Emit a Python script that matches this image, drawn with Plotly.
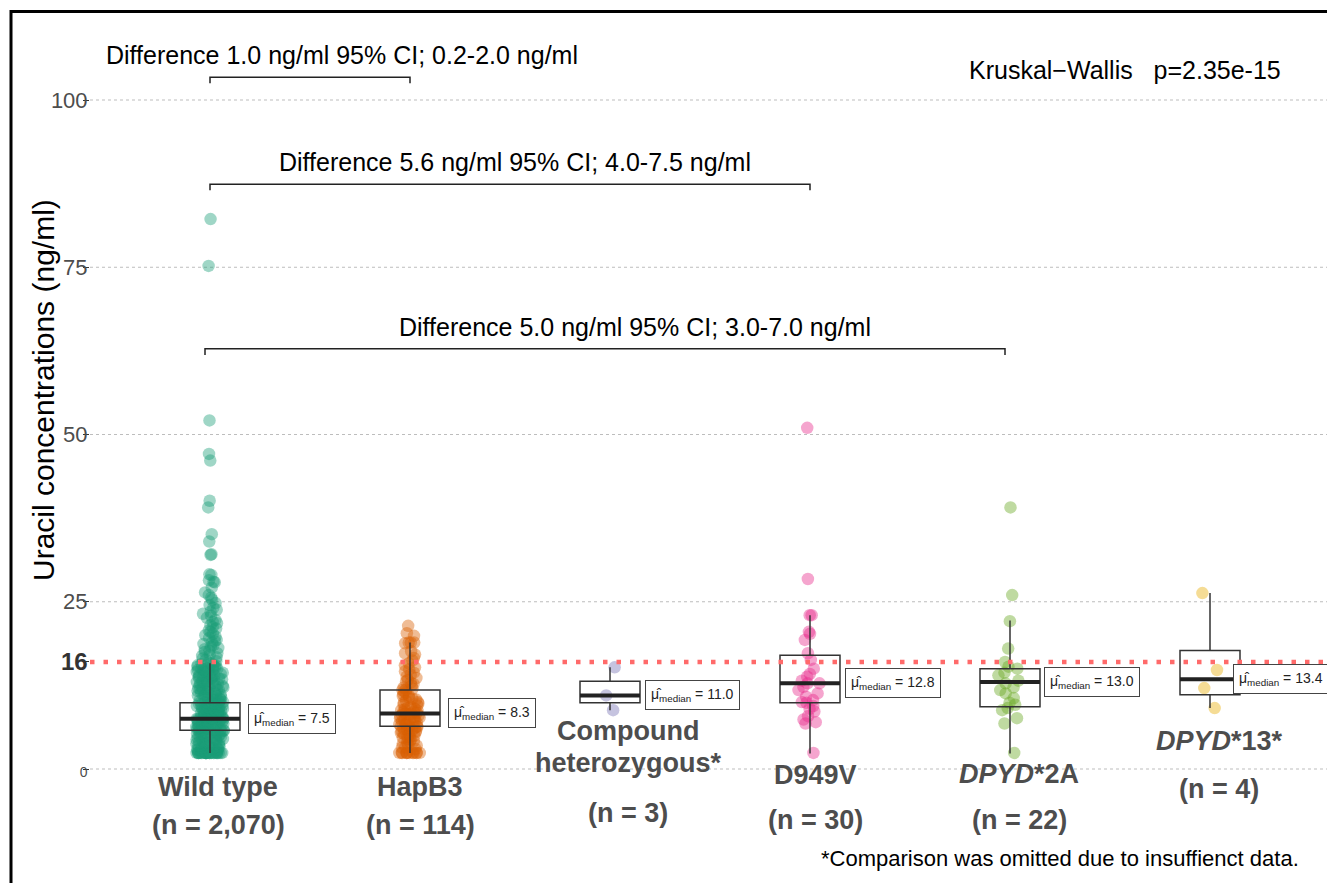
import plotly.graph_objects as go

# ---------------- data ----------------
groups = ["Wild type", "HapB3", "Compound heterozygous*", "D949V", "DPYD*2A", "DPYD*13*"]
n_counts = ["2,070", "114", "3", "30", "22", "4"]
colors = ["#1B9E77", "#D95F02", "#7570B3", "#E7298A", "#66A61E", "#E6AB02"]

wt_values = [
    82.2, 75.2, 52.1, 47.1, 46.1, 40.1, 39.1, 35.1, 34.0, 32.1, 32.0,
    29.1, 29.0, 28.2, 28.0, 27.9, 27.1, 26.4, 26.0, 25.6, 25.3, 24.8, 24.5, 24.1, 23.8,
    23.5, 23.2, 22.9, 22.6, 22.3, 22.0, 21.8, 21.5, 21.2, 21.0, 20.7, 20.5, 20.2, 20.0,
    19.8, 19.6, 19.3, 19.1, 18.9, 18.7, 18.5, 18.3, 18.1, 17.9, 17.7, 17.5, 17.3, 17.1,
    16.9, 16.7, 16.5, 16.3, 16.1,
    15.9, 15.7, 15.5, 15.3, 15.1, 14.9, 14.7, 14.5, 14.3, 14.1, 13.9, 13.7, 13.5, 13.3,
    13.1, 12.9, 12.7, 12.5, 12.3, 12.1, 11.9, 11.7, 11.5, 11.3, 11.1, 10.9, 10.7, 10.5,
    10.3, 10.1, 9.9, 9.8, 9.7, 9.6, 9.5, 9.4, 9.3, 9.2, 9.1, 9.0, 8.9, 8.8, 8.7, 8.6,
    8.5, 8.4, 8.3, 8.2, 8.1, 8.0, 7.9, 7.8, 7.7, 7.6, 7.5, 7.5, 7.4, 7.3, 7.2, 7.1, 7.0,
    6.9, 6.8, 6.7, 6.6, 6.5, 6.4, 6.3, 6.2, 6.1, 6.0, 5.9, 5.8, 5.7, 5.6, 5.5, 5.4, 5.3,
    5.2, 5.1, 5.0, 4.9, 4.7, 4.5, 4.3, 4.1, 3.9, 3.7, 3.5, 3.3, 3.1, 2.9, 2.7,
    15.8, 15.4, 15.0, 14.6, 14.2, 13.8, 13.4, 13.0, 12.6, 12.2, 11.8, 11.4, 11.0, 10.6,
    10.2, 9.85, 9.45, 9.05, 8.65, 8.25, 7.85, 7.45, 7.05, 6.65, 6.25, 5.85, 5.45, 5.05,
    4.6, 4.2, 3.8, 3.4, 3.0, 2.6,
    15.6, 15.2, 14.8, 14.4, 14.0, 13.6, 13.2, 12.8, 12.4, 12.0, 11.6, 11.2, 10.8, 10.4,
    10.0, 9.75, 9.35, 8.95, 8.55, 8.15, 7.75, 7.35, 6.95, 6.55, 6.15, 5.75, 5.35, 4.8,
    4.4, 4.0, 3.6, 3.2, 2.8,
    15.5, 15.0, 14.5, 14.0, 13.5, 13.0, 12.5, 12.0, 11.5, 11.0, 10.5, 10.0, 9.6, 9.2,
    8.8, 8.4, 8.0, 7.6, 7.2, 6.8, 6.4, 6.0, 5.6, 5.2, 4.8, 4.4, 4.0, 3.6, 3.2, 2.9,
    14.9, 13.9, 12.9, 11.9, 10.9, 9.9, 8.9, 7.9, 6.9, 5.9, 4.9, 3.9, 3.4, 2.9,
    2.4, 2.4, 2.4, 2.4, 2.4, 2.4, 2.4, 2.4, 2.4, 2.4,
    2.4, 2.4, 2.4, 2.4, 2.4, 2.4, 2.4, 2.4, 2.4, 2.4,
    2.4, 2.4, 2.4, 2.4, 2.4, 2.4,
]

hapb3_values = [
    21.4, 20.3, 19.9, 18.9, 18.9, 18.9, 18.8, 17.6, 17.3, 17.1,
    16.6, 16.2, 15.8, 15.5, 15.2, 14.9, 14.6, 14.4, 14.1, 13.8,
    13.6, 13.3, 13.1, 12.9, 12.7, 12.5, 12.2, 12.0, 11.9, 11.8,
    11.6, 11.4, 11.2, 11.0, 10.9, 10.7, 10.5, 10.4, 10.2, 10.0,
    9.9, 9.8, 9.6, 9.5, 9.3, 9.2, 9.0, 8.9, 8.8, 8.7,
    8.6, 8.5, 8.4, 8.3, 8.3, 8.2, 8.1, 8.0, 7.9, 7.8,
    7.7, 7.6, 7.5, 7.4, 7.3, 7.2, 7.1, 7.0, 6.9, 6.8,
    6.7, 6.6, 6.5, 6.4, 6.4, 6.3, 6.2, 6.1, 6.0, 5.9,
    5.8, 5.7, 5.6, 5.5, 5.4, 5.3, 5.2, 5.0, 4.9, 4.8,
    4.7, 4.5, 4.4, 4.2, 4.1, 3.9, 3.8, 3.6, 3.5, 3.3,
    3.2, 3.0, 2.4, 2.4, 2.4, 2.4, 2.4, 2.4, 2.4, 2.4,
    2.4, 2.4, 2.4, 2.4,
]

compound_values = [15.2, 11.0, 8.8]

d949v_values = [
    51.0, 28.4, 23.0, 23.0, 20.5, 20.2, 19.3, 17.3, 16.3, 15.0,
    14.2, 13.8, 13.2, 12.8, 12.8, 12.3, 11.8, 11.3, 10.8, 10.3,
    10.0, 9.9, 9.4, 9.0, 8.6, 7.9, 7.4, 7.0, 6.8, 2.4,
]

dpyd2a_values = [
    39.1, 26.0, 22.1, 18.0, 16.0, 15.3, 15.0, 14.4, 14.0, 13.2,
    12.8, 12.2, 11.8, 11.3, 10.6, 9.9, 9.6, 9.1, 8.8, 7.6,
    6.8, 2.4,
]

dpyd13_values = [26.3, 14.8, 12.1, 9.1]

# box summary statistics
box_q1 = [5.8, 6.4, 9.9, 9.9, 9.3, 11.1]
box_median = [7.5, 8.3, 11.0, 12.8, 13.0, 13.4]
box_q3 = [9.9, 11.8, 13.1, 17.0, 15.0, 17.7]
box_lower = [2.4, 2.4, 8.8, 2.3, 2.3, 9.1]
box_upper = [15.8, 18.9, 15.2, 23.0, 22.2, 26.3]

threshold = 16
y_tick_values = [0, 16, 25, 50, 75, 100]
grid_values = [0, 25, 50, 75, 100]

comparison_labels = [
    "Difference 1.0 ng/ml 95% CI; 0.2-2.0 ng/ml",
    "Difference 5.6 ng/ml 95% CI; 4.0-7.5 ng/ml",
    "Difference 5.0 ng/ml 95% CI; 3.0-7.0 ng/ml",
]
comparison_pairs = [(0, 1), (0, 3), (0, 4)]
comparison_levels = [103.4, 87.4, 62.8]

kruskal_text = "Kruskal\u2212Wallis   p=2.35e-15"
footnote_text = "*Comparison was omitted due to insuffienct data."
y_title = "Uracil concentrations (ng/ml)"

all_values = [wt_values, hapb3_values, compound_values, d949v_values,
              dpyd2a_values, dpyd13_values]

# ---------------- styling / layout helpers ----------------
FONT = "Liberation Sans, Arial, sans-serif"
OFF = 8                      # page body margin
W, H = 1335 - OFF, 883 - OFF
# reference page-pixel geometry
PAGE_PLOT_LEFT, PAGE_PLOT_RIGHT = 90, 1335
PAGE_PLOT_TOP, PAGE_PLOT_BOTTOM = 20, 800
PX_Y0 = 769.0          # page pixel of y = 0
PX_PER_UNIT = 6.69     # pixels per ng/ml
PX_X0 = 210.0          # page pixel of first category
PX_PER_CAT = 200.0

L = PAGE_PLOT_LEFT - OFF
R = W - (PAGE_PLOT_RIGHT - OFF)
T = PAGE_PLOT_TOP - OFF
B = H - (PAGE_PLOT_BOTTOM - OFF)
plot_w = W - L - R
plot_h = H - T - B
y_min = -(PAGE_PLOT_BOTTOM - PX_Y0) / PX_PER_UNIT
y_max = (PX_Y0 - PAGE_PLOT_TOP) / PX_PER_UNIT
x_min = (PAGE_PLOT_LEFT - PX_X0) / PX_PER_CAT
x_max = (PAGE_PLOT_RIGHT - PX_X0) / PX_PER_CAT


def paper_x(px):
    return (px - PAGE_PLOT_LEFT) / plot_w


def paper_y(py):
    return (PAGE_PLOT_BOTTOM - py) / plot_h


def data_x(px):
    return (px - PX_X0) / PX_PER_CAT


def data_y(py):
    return (PX_Y0 - py) / PX_PER_UNIT


jitters = [0.46, 0.42, 0.2, 0.4, 0.45, 0.3]
box_width = 0.3

fig = go.Figure()

# jittered points
for i, vals in enumerate(all_values):
    fig.add_trace(go.Box(
        x=[i] * len(vals), y=vals,
        boxpoints="all", jitter=jitters[i], pointpos=0,
        width=box_width, whiskerwidth=0,
        marker=dict(color=colors[i], size=12.5, opacity=0.42, line=dict(width=0)),
        line=dict(width=0, color="rgba(0,0,0,0)"),
        fillcolor="rgba(0,0,0,0)",
        hoveron="points", showlegend=False,
    ))

# box plots from summary statistics
fig.add_trace(go.Box(
    x=list(range(len(groups))),
    q1=box_q1, median=box_median, q3=box_q3,
    lowerfence=box_lower, upperfence=box_upper,
    boxpoints=False, width=box_width, whiskerwidth=0,
    line=dict(color="#333333", width=1.5),
    fillcolor="rgba(0,0,0,0)", showlegend=False,
))

shapes = []
# grid lines
for g in grid_values:
    shapes.append(dict(type="line", xref="paper", x0=0, x1=1, yref="y", y0=g, y1=g,
                       line=dict(color="#BDBDBD", width=1, dash="dot"), layer="below"))
# threshold line
shapes.append(dict(type="line", xref="paper", x0=0, x1=1, yref="y", y0=threshold, y1=threshold,
                   line=dict(color="#FF6A6A", width=4.5, dash="4.5px,9px"), layer="above"))
# thick median lines
for i, m in enumerate(box_median):
    shapes.append(dict(type="line", xref="x", yref="y", x0=i - box_width / 2, x1=i + box_width / 2,
                       y0=m, y1=m, line=dict(color="#222222", width=4)))
# frame (left & top edges)
shapes.append(dict(type="line", xref="paper", yref="paper", x0=paper_x(11), x1=paper_x(11),
                   y0=paper_y(10), y1=paper_y(900), line=dict(color="black", width=3)))
shapes.append(dict(type="line", xref="paper", yref="paper", x0=paper_x(10), x1=paper_x(1345),
                   y0=paper_y(11.5), y1=paper_y(11.5), line=dict(color="black", width=3)))

# significance brackets
bracket_shift = [0, 0, -0.025]
text_xshift = [32, 5, 30]
annotations = []
tick_down = 0.9
for k, (a, b) in enumerate(comparison_pairs):
    xa, xb = a + bracket_shift[k], b + bracket_shift[k]
    yl = comparison_levels[k]
    fig.add_trace(go.Scatter(
        x=[xa, xa, xb, xb], y=[yl - tick_down, yl, yl, yl - tick_down],
        mode="lines", line=dict(color="#222222", width=1.5),
        hoverinfo="skip", showlegend=False,
    ))
    annotations.append(dict(x=(xa + xb) / 2, y=yl, xref="x", yref="y", text=comparison_labels[k],
                            showarrow=False, yanchor="bottom", yshift=6, xshift=text_xshift[k],
                            font=dict(family=FONT, size=25, color="black")))

# Kruskal-Wallis
annotations.append(dict(x=data_x(1125), y=data_y(70), xref="x", yref="y",
                        text=kruskal_text, showarrow=False,
                        font=dict(family=FONT, size=25, color="black")))

# median labels
label_offsets = [0.19, 0.19, 0.175, 0.175, 0.17, 0.115]
for i, m in enumerate(box_median):
    annotations.append(dict(
        x=i + label_offsets[i], y=m, xref="x", yref="y", xanchor="left", yanchor="middle",
        text="\u03bc\u0302<sub>median</sub> = %.1f" % m, showarrow=False,
        font=dict(family=FONT, size=14, color="#222222"),
        bordercolor="#444444", borderwidth=1, borderpad=5, bgcolor="white",
    ))

# x category labels (lines positioned individually, page-pixel centres)
name_lines = [
    ["<b>Wild type</b>"],
    ["<b>HapB3</b>"],
    ["<b>Compound</b>", "<b>heterozygous*</b>"],
    ["<b>D949V</b>"],
    ["<b><i>DPYD</i>*2A</b>"],
    ["<b><i>DPYD</i>*13*</b>"],
]
name_line_px = [[787], [787], [731, 763], [775], [774], [741]]
n_line_px = [825, 825, 813, 820, 820, 789]
label_xshift = [8, 10, 18, 5, 9, 9]
for i in range(len(groups)):
    lines = name_lines[i] + ["<b>(n = %s)</b>" % n_counts[i]]
    pys = name_line_px[i] + [n_line_px[i]]
    for txt, py in zip(lines, pys):
        annotations.append(dict(x=i, y=0, xref="x", yref="y", yanchor="middle",
                                yshift=PX_Y0 - py, xshift=label_xshift[i], text=txt,
                                showarrow=False,
                                font=dict(family=FONT, size=27, color="#4D4D4D")))

# y title
annotations.append(dict(x=paper_x(43), y=paper_y(390), xref="paper", yref="paper",
                        xanchor="center", yanchor="middle",
                        text=y_title, textangle=-90, showarrow=False,
                        font=dict(family=FONT, size=30, color="black")))

# footnote
annotations.append(dict(x=data_x(1060), y=0, xref="x", yref="y",
                        yshift=PX_Y0 - 858, text=footnote_text, showarrow=False,
                        font=dict(family=FONT, size=22, color="black")))

tick_text = []
for v in y_tick_values:
    if v == 0:
        tick_text.append("<span style='font-size:14px'>0</span>")
    elif v == threshold:
        tick_text.append("<b><span style='font-size:24px;color:#333333'>16</span></b>")
    else:
        tick_text.append(str(v))

fig.update_layout(
    width=W, height=H,
    margin=dict(l=L, r=R, t=T, b=B, pad=0),
    paper_bgcolor="white", plot_bgcolor="white",
    boxmode="overlay",
    showlegend=False,
    font=dict(family=FONT),
    xaxis=dict(range=[x_min, x_max], showticklabels=False, showgrid=False, zeroline=False,
               showline=False, ticks=""),
    yaxis=dict(range=[y_min, y_max], tickvals=y_tick_values, ticktext=tick_text,
               showgrid=False, zeroline=False, showline=False,
               ticks="outside", ticklen=6, tickcolor="#333333", tickwidth=1,
               ticklabelstandoff=-9,
               tickfont=dict(family=FONT, size=22, color="#4D4D4D")),
    shapes=shapes,
    annotations=annotations,
)

fig.write_html("out.html")
